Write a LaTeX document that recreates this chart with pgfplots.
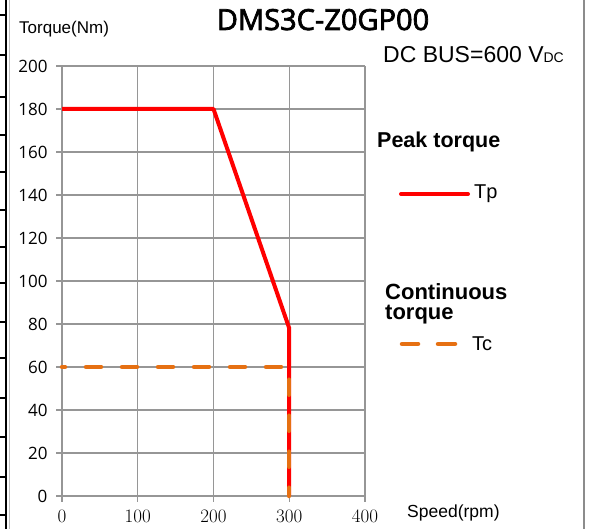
\documentclass[border=0pt]{standalone}
\usepackage{pgfplots}
\pgfplotsset{compat=1.18}
\usepackage{fontspec}
\setmainfont{Liberation Sans}
\newfontfamily\titlefont[FakeBold=2.5]{Open Sans}
\newfontfamily\tickfont{Open Sans}
\newfontfamily\lmfont{Latin Modern Roman}
\definecolor{tpred}{RGB}{255,0,0}
\definecolor{tcorange}{RGB}{230,112,18}
\definecolor{gridgray}{RGB}{150,150,150}
\begin{document}
\begin{tikzpicture}[x=1pt,y=1pt]
\path[use as bounding box] (0,0) rectangle (590,529);
% frame decoration
\draw[black, line width=2.5pt] (6,0) -- (6,529);
\foreach \yy in {15,55,97,135,172,210,247,283,322,358,398,437,477,515}
  \draw[black, line width=2pt] (0,529-\yy) -- (6,529-\yy);
\draw[black!25, line width=1.5pt] (9.5,0) -- (9.5,529);
\draw[black!45, line width=1.5pt] (584,0) -- (584,529);
\begin{axis}[
  at={(62pt,33pt)}, anchor=south west, scale only axis,
  width=303pt, height=430pt,
  xmin=0, xmax=400, ymin=0, ymax=200,
  xtick={0,100,...,400}, ytick={0,20,...,200},
  axis lines=left, axis line style={gridgray, line width=1.6pt, -},
  grid=major, major grid style={gridgray, line width=1.3pt},
  tick style={gridgray, line width=1.3pt}, tick align=outside, major tick length=6pt,
  xticklabel={\pgfmathprintnumber[assume math mode=true]{\tick}},
  xticklabel style={font=\lmfont\fontsize{19}{19}\selectfont, yshift=-4pt},
  yticklabel={\pgfmathprintnumber[assume math mode=true]{\tick}},
  yticklabel style={font=\tickfont\fontsize{17}{17}\selectfont, xshift=-5pt},
  clip=false,
]
\addplot[tpred, line width=4pt, line join=round] coordinates {(0,180) (200,180) (300,78) (300,0)};
\addplot[tcorange, line width=4.5pt, line cap=round, dash pattern=on 15pt off 21pt, dash phase=12pt] coordinates {(0,60) (300,60) (300,0)};
\end{axis}
% texts
\node[anchor=base, font=\titlefont\fontsize{29}{29}\selectfont] at (323,529-30) {DMS3C-Z0GP00};
\node[anchor=base west, inner sep=0, font=\fontsize{17}{17}\selectfont] at (19,529-34) {Torque(Nm)};
\node[anchor=base west, inner sep=0, font=\fontsize{23}{23}\selectfont] at (383,529-63) {DC BUS=600 V{\fontsize{14}{14}\selectfont DC}};
\node[anchor=base west, inner sep=0, font=\bfseries\fontsize{21.5}{21.5}\selectfont] at (377,529-148) {Peak torque};
\draw[tpred, line width=4pt, line cap=round] (401,529-194) -- (468,529-194);
\node[anchor=west, inner sep=0, font=\fontsize{20}{20}\selectfont] at (474,529-194) {Tp};
\node[anchor=base west, inner sep=0, font=\bfseries\fontsize{22}{22}\selectfont] at (385,529-300) {Continuous};
\node[anchor=base west, inner sep=0, font=\bfseries\fontsize{22}{22}\selectfont] at (385,529-320) {torque};
\draw[tcorange, line width=4.5pt, line cap=round] (402,529-344) -- (418,529-344);
\draw[tcorange, line width=4.5pt, line cap=round] (438,529-344) -- (455,529-344);
\node[anchor=west, inner sep=0, font=\fontsize{20}{20}\selectfont] at (472,529-344) {Tc};
\node[anchor=base west, inner sep=0, font=\fontsize{17.5}{17.5}\selectfont] at (407,529-518) {Speed(rpm)};
\end{tikzpicture}
\end{document}
